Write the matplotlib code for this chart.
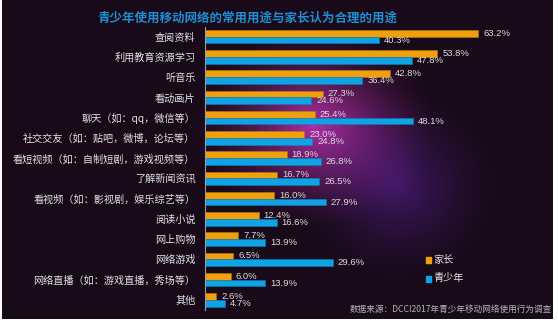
import numpy as np
import matplotlib
matplotlib.use("Agg")
import matplotlib.pyplot as plt
from matplotlib.colors import to_rgb

# ---- data ----
categories = [
    "查阅资料",
    "利用教育资源学习",
    "听音乐",
    "看动画片",
    "聊天（如：qq，微信等）",
    "社交交友（如：贴吧，微博，论坛等）",
    "看短视频（如：自制短剧，游戏视频等）",
    "了解新闻资讯",
    "看视频（如：影视剧，娱乐综艺等）",
    "阅读小说",
    "网上购物",
    "网络游戏",
    "网络直播（如：游戏直播，秀场等）",
    "其他",
]
parents = [63.2, 53.8, 42.8, 27.3, 25.4, 23.0, 18.9, 16.7, 16.0, 12.4, 7.7, 6.5, 6.0, 2.6]
youth = [40.3, 47.8, 36.4, 24.6, 48.1, 24.8, 26.8, 26.5, 27.9, 16.6, 13.9, 29.6, 13.9, 4.7]
series_names = ["家长", "青少年"]
title = "青少年使用移动网络的常用用途与家长认为合理的用途"
source = "数据来源：DCCI2017年青少年移动网络使用行为调查"

plt.rcParams['font.family'] = ['Noto Sans CJK SC', 'DejaVu Sans']

W, H = 558, 323
fig = plt.figure(figsize=(W / 100, H / 100), dpi=100, facecolor="white")

# ---- background (decorative dark purple glow) ----
bg = fig.add_axes([2 / W, 4 / H, 551 / W, 319 / H])
bg.set_axis_off()
yy, xx = np.mgrid[0:319, 0:551]
dark = np.array(to_rgb("#180a18"))
glow = np.array(to_rgb("#b02ea6"))
violet = np.array(to_rgb("#562090"))
d1 = np.sqrt(((xx - 310) / 125.0) ** 2 + ((yy - 125) / 105.0) ** 2)
d2 = np.sqrt(((xx - 395) / 110.0) ** 2 + ((yy - 185) / 105.0) ** 2)
w1 = np.clip(1 - d1, 0, 1) ** 1.5
w2 = np.clip(1 - d2, 0, 1) ** 1.5 * 0.65
rest = (1 - w1 - w2).clip(0, 1)
img = dark[None, None, :] * rest[..., None] \
    + glow[None, None, :] * w1[..., None] + violet[None, None, :] * w2[..., None]
bg.imshow(np.clip(img, 0, 1), aspect="auto", extent=[0, 1, 0, 1])
bg.set_xlim(0, 1); bg.set_ylim(0, 1)

# ---- chart ----
ax = fig.add_axes([205 / W, (H - 310) / H, 340 / W, 283.5 / H])
ax.patch.set_alpha(0)
n = len(categories)
y = np.arange(n)
h = 0.33
c_par = "#f0a00c"
c_you = "#0fa3e6"
ax.barh(y - 0.17, parents, height=h, color=c_par, edgecolor="#b87808", linewidth=0.4)
ax.barh(y + 0.17, youth, height=h, color=c_you, edgecolor="#0b7fb4", linewidth=0.4)
for i in range(n):
    ax.annotate(f"{parents[i]:.1f}%", (parents[i], y[i] - 0.17), xytext=(3.6, 0),
                textcoords="offset points", va="center", ha="left",
                fontsize=6.8, color="#dcdcdc", family=["Liberation Sans", "DejaVu Sans"])
    ax.annotate(f"{youth[i]:.1f}%", (youth[i], y[i] + 0.17), xytext=(3.6, 0),
                textcoords="offset points", va="center", ha="left",
                fontsize=6.8, color="#dcdcdc", family=["Liberation Sans", "DejaVu Sans"])

ax.set_xlim(0, 78.7)
ax.set_ylim(n - 0.5, -0.5)
ax.set_yticks(y)
ax.set_yticklabels(categories, fontsize=7.3, color="#e2e2e2")
ax.tick_params(axis="y", length=0, pad=7)
ax.set_xticks([])
for s in ["top", "right", "bottom"]:
    ax.spines[s].set_visible(False)
ax.spines["left"].set_color("#9a9a9a")
ax.spines["left"].set_linewidth(0.8)

# title
fig.text(247 / W, 1 - 18 / H, title, ha="center", va="center", fontsize=9,
         fontweight="bold", color="#1e8fd2")

# legend
for k, (name, col) in enumerate(zip(series_names, [c_par, c_you])):
    yc = 1 - (260 + 18.5 * k) / H
    fig.patches.append(plt.Rectangle((425.5 / W, yc - 3 / H), 5 / W, 6 / H,
                                     transform=fig.transFigure, color=col, figure=fig))
    fig.text(433 / W, yc, name, ha="left", va="center", fontsize=7.3, color="#e6e6e6")

# source
fig.text(552 / W, 1 - 309 / H, source, ha="right", va="center", fontsize=6.2,
         color="#b4b4b4", style="italic")

fig.savefig("out.png", dpi=100, facecolor="white")
